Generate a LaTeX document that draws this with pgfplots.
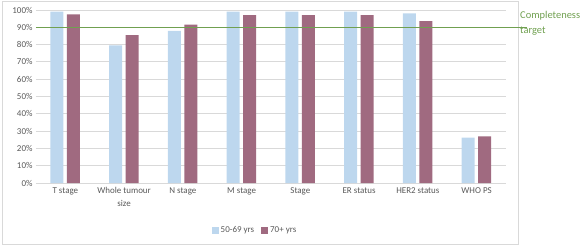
\documentclass[border=0pt]{standalone}
\usepackage{pgfplots}
\pgfplotsset{compat=1.18}
\usepackage{fontspec}
\setmainfont{Carlito}
\definecolor{cblue}{RGB}{189,215,238}
\definecolor{cpurple}{RGB}{160,106,128}
\definecolor{cgreen}{RGB}{112,160,80}
\definecolor{cgrid}{RGB}{217,217,217}
\definecolor{ctext}{RGB}{89,89,89}
\begin{document}
\begin{tikzpicture}
\useasboundingbox (-36bp,-63bp) rectangle (549bp,183bp);
\draw[cgrid, line width=0.8bp] (-34bp,-61bp) rectangle (482bp,182bp);
\begin{axis}[
  at={(0,0)}, anchor=south west,
  scale only axis, width=470bp, height=173bp,
  ymin=0, ymax=100,
  xmin=-0.5, xmax=7.5,
  clip=false,
  axis line style={draw=none},
  axis x line*=bottom,
  ytick={0,10,...,100},
  yticklabels={0\%,10\%,20\%,30\%,40\%,50\%,60\%,70\%,80\%,90\%,100\%},
  xtick={0,...,7},
  xticklabels={T stage,Whole tumour\\size,N stage,M stage,Stage,ER status,HER2 status,WHO PS},
  x tick label style={align=center, font=\fontsize{9}{13}\selectfont, text=ctext, yshift=-1bp},
  y tick label style={font=\fontsize{9}{10}\selectfont, text=ctext},
  major tick length=0pt,
  ymajorgrids, grid style={cgrid, line width=0.8bp},
  legend style={at={([yshift=-47bp]axis description cs:0.466,0)}, anchor=center,
    draw=none, legend columns=2, font=\fontsize{9}{10}\selectfont, text=ctext,
    /tikz/every even column/.append style={column sep=5bp}},
  legend image code/.code={\fill[#1] (0bp,-3.5bp) rectangle (7bp,3.5bp);},
]
\draw[cgrid, line width=0.8bp] (axis cs:-0.5,0) -- (axis cs:7.5,0);
\addplot[ybar, bar width=13bp, fill=cblue, draw=none, bar shift=-8.5bp] coordinates {(0,99) (1,79.5) (2,88) (3,99) (4,99) (5,99) (6,98) (7,26.2)};
\addlegendentry{50-69 yrs}
\addplot[ybar, bar width=13bp, fill=cpurple, draw=none, bar shift=8bp] coordinates {(0,97.5) (1,85.5) (2,91.5) (3,97) (4,97) (5,97) (6,93.5) (7,27)};
\addlegendentry{70+ yrs}
\addplot[sharp plot, no markers, draw=cgreen, line width=1.4bp, forget plot] coordinates {(-0.5,90) (7.85,90)};
\end{axis}
\node[anchor=north west, align=left, text=cgreen, font=\fontsize{10.5}{15}\selectfont, inner sep=0pt] at (484bp,172bp) {Completeness\\target};
\end{tikzpicture}
\end{document}
